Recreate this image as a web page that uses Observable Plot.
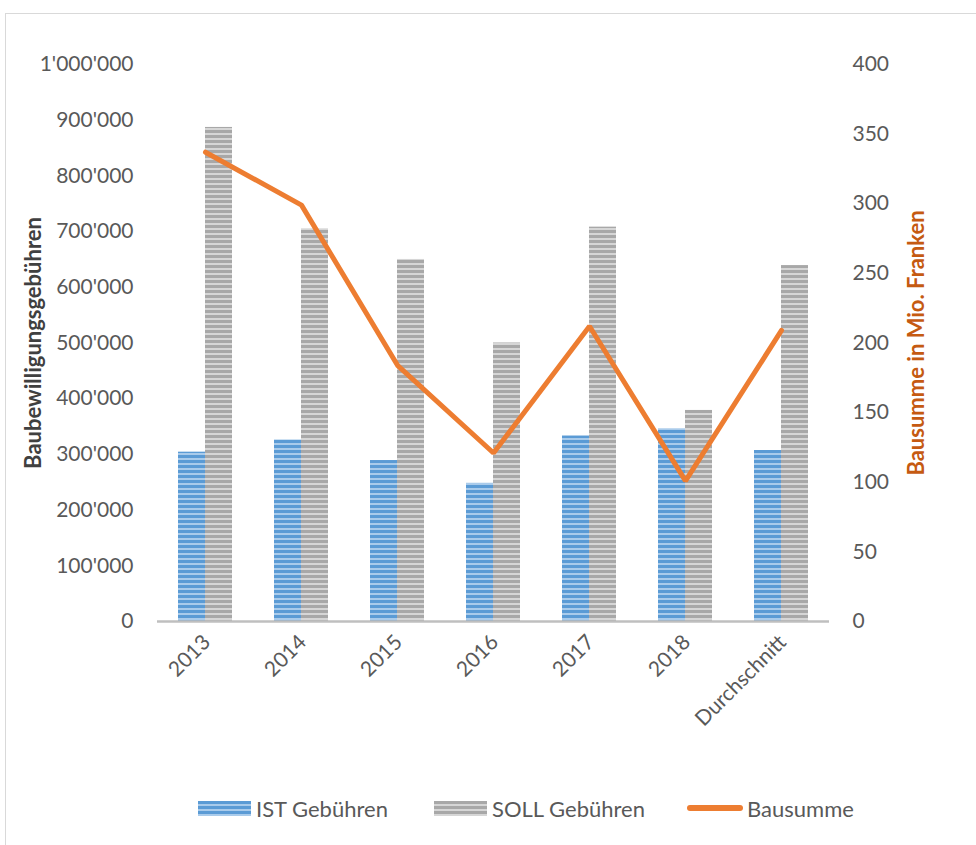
<!DOCTYPE html>
<html>
<head>
<meta charset="utf-8">
<script src="https://cdn.jsdelivr.net/npm/d3@7"></script>
<script src="https://cdn.jsdelivr.net/npm/@observablehq/plot@0.6"></script>
<style>
  html, body { margin: 0; padding: 0; background: #fff; }
  #wrap { position: relative; width: 976px; height: 845px; overflow: hidden; font-family: Lato, "Open Sans", sans-serif; }
  #frame { position: absolute; left: 5px; top: 13px; width: 990px; height: 850px; border: 1.5px solid #d9d9d9; box-sizing: border-box; }
  #chart { position: absolute; left: 0; top: 0; }
  #legend { position: absolute; top: 794px; left: 0; width: 976px; height: 28px; font-size: 22px; color: #595959; }
  .li { position: absolute; top: 0; display: flex; align-items: center; height: 28px; }
  .sw { display: inline-block; width: 53px; height: 15px; margin-right: 5px; }
</style>
</head>
<body>
<div id="wrap">
  <div id="frame"></div>
  <div id="chart"></div>
  <div id="legend">
    <div class="li" style="left:198px"><span class="sw" style="background:repeating-linear-gradient(#5b9bd5 0 3px,#a9cbeb 3px 5px)"></span>IST Gebühren</div>
    <div class="li" style="left:434px"><span class="sw" style="background:repeating-linear-gradient(#a8a8a8 0 3px,#d6d6d6 3px 5px)"></span>SOLL Gebühren</div>
    <div class="li" style="left:687px"><span class="sw" style="width:56px;height:6px;border-radius:3px;background:#ed7d31;margin-right:4px"></span>Bausumme</div>
  </div>
</div>
<script>
const categories = ["2013", "2014", "2015", "2016", "2017", "2018", "Durchschnitt"];
const istGebuehren = [304000, 326000, 289000, 248000, 333000, 346000, 307000];
const sollGebuehren = [887000, 705000, 650000, 500000, 708000, 379000, 639000];
const bausumme = [337, 299, 184, 121, 212, 101, 209];
const leftTicks = [0, 100000, 200000, 300000, 400000, 500000, 600000, 700000, 800000, 900000, 1000000];
const rightTicks = [0, 50, 100, 150, 200, 250, 300, 350, 400];

const ratio = 1000000 / 400;
const fmt = d => d3.format(",")(d).replace(/,/g, "'");

const svg = Plot.plot({
  width: 976,
  height: 760,
  marginLeft: 157,
  marginRight: 147,
  marginTop: 64,
  marginBottom: 139,
  style: { fontFamily: "Lato, 'Open Sans', sans-serif", fontSize: "21px", color: "#595959", background: "transparent" },
  x: { domain: categories, paddingInner: 0.435, paddingOuter: 0.2175, axis: null },
  y: { domain: [0, 1000000], axis: null },
  marks: [
    Plot.barY(categories, { x: categories, y: istGebuehren, fill: "url(#pIST)", insetRight: 27 }),
    Plot.barY(categories, { x: categories, y: sollGebuehren, fill: "url(#pSOLL)", insetLeft: 27 }),
    Plot.ruleY([0], { stroke: "#bfbfbf", strokeWidth: 2.5 }),
    Plot.line(categories, { x: categories, y: bausumme.map(v => v * ratio), stroke: "#ed7d31", strokeWidth: 5, strokeLinecap: "round", strokeLinejoin: "miter" }),
    Plot.axisY({ anchor: "left", ticks: leftTicks, tickFormat: fmt, tickSize: 0, tickPadding: 24, label: null }),
    Plot.axisY({ anchor: "right", ticks: rightTicks.map(v => v * ratio), tickFormat: d => d / ratio, tickSize: 0, tickPadding: 23, label: null }),
    Plot.text(categories, { x: categories, frameAnchor: "bottom", text: d => d, rotate: -45, textAnchor: "end", dx: 6, dy: 22, fill: "#595959" }),
    Plot.text(["Baubewilligungsgebühren"], { frameAnchor: "left", textAnchor: "middle", dx: -124, dy: 0, rotate: -90, text: d => d, fontWeight: "bold", fontSize: 22, fill: "#404040" }),
    Plot.text(["Bausumme in Mio. Franken"], { frameAnchor: "right", textAnchor: "middle", dx: 87, dy: 0, rotate: -90, text: d => d, fontWeight: "bold", fontSize: 22, fill: "#c55a11" })
  ]
});

const defs = document.createElementNS("http://www.w3.org/2000/svg", "defs");
defs.innerHTML = `
  <pattern id="pIST" patternUnits="userSpaceOnUse" width="10" height="5">
    <rect width="10" height="5" fill="#5b9bd5"></rect>
    <rect y="3" width="10" height="2" fill="#a9cbeb"></rect>
  </pattern>
  <pattern id="pSOLL" patternUnits="userSpaceOnUse" width="10" height="5">
    <rect width="10" height="5" fill="#a8a8a8"></rect>
    <rect y="3" width="10" height="2" fill="#d6d6d6"></rect>
  </pattern>`;
svg.insertBefore(defs, svg.firstChild);
document.getElementById("chart").appendChild(svg);
</script>
</body>
</html>
